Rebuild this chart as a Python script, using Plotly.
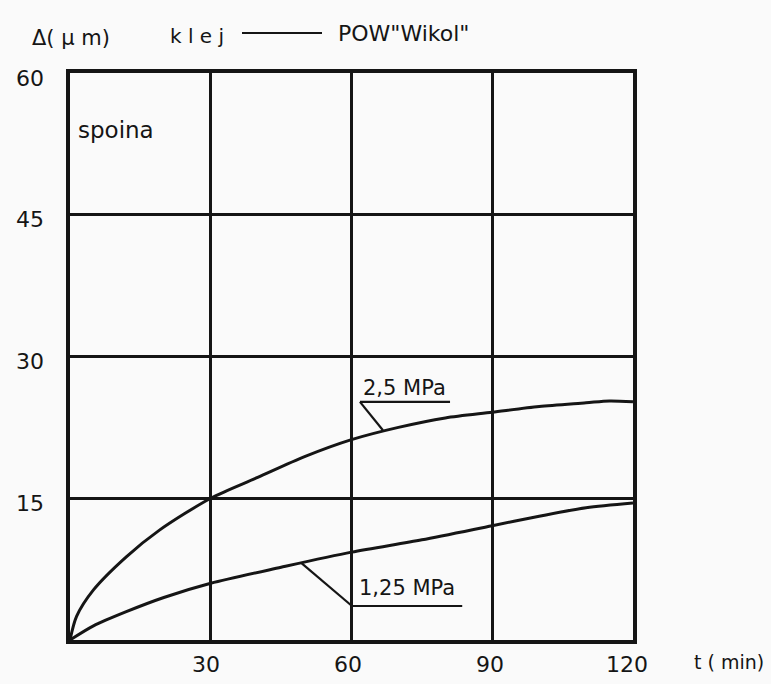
import plotly.graph_objects as go

t_25 = [0, 1.4, 5, 12, 19, 30, 40, 50, 60, 70, 80, 90, 100, 110, 115, 120]
d_25 = [0, 2.5, 5.3, 8.8, 11.6, 15.0, 17.2, 19.4, 21.2, 22.5, 23.5, 24.1, 24.7, 25.1, 25.3, 25.2]
t_125 = [0, 5, 12, 20, 30, 45, 60, 75, 90, 100, 110, 120]
d_125 = [0, 1.5, 3.0, 4.5, 6.0, 7.7, 9.3, 10.6, 12.1, 13.1, 14.0, 14.5]
x_ticks = [30, 60, 90, 120]
y_ticks = [15, 30, 45, 60]

FONT = "DejaVu Sans"
INK = "#151515"
fig = go.Figure()
for t, d in [(t_25, d_25), (t_125, d_125)]:
    fig.add_trace(go.Scatter(x=t, y=d, mode="lines",
                             line=dict(color=INK, width=3, shape="spline", smoothing=0.8),
                             showlegend=False, hoverinfo="skip"))

fig.update_layout(
    width=771, height=684,
    margin=dict(l=70, r=138, t=73, b=44),
    paper_bgcolor="#fafafa", plot_bgcolor="#fafafa",
    font=dict(family=FONT, size=22, color=INK),
)
axis_style = dict(showticklabels=False, showgrid=True, gridcolor=INK, gridwidth=3,
                  showline=True, linecolor=INK, linewidth=4, mirror=True, zeroline=False, ticks="")
fig.update_xaxes(range=[0, 120], tickvals=x_ticks, **axis_style)
fig.update_yaxes(range=[0, 60], tickvals=y_ticks, **axis_style)

PW, PH = 563, 567


def px(xp):
    return (xp - 70) / PW


def py(yp):
    return (640 - yp) / PH


ann = []
for v in y_ticks:
    ann.append(dict(x=px(46), xref="paper", y=v, yref="y", text=str(v), showarrow=False,
                    xanchor="right", yanchor="middle", yshift=-5, font=dict(size=22)))
xshift = {30: -5, 60: -4, 90: -2, 120: -6}
for v in x_ticks:
    ann.append(dict(x=v, xref="x", y=0, yref="y", text=str(v), showarrow=False, xanchor="center",
                    yanchor="middle", yshift=-24, xshift=xshift[v], font=dict(size=22)))
ann.append(dict(x=px(766), xref="paper", y=0, yref="y", text="t ( min)", showarrow=False,
                xanchor="right", yanchor="middle", yshift=-22, font=dict(size=19)))
ann.append(dict(x=px(30), xref="paper", y=py(38), yref="paper", text="Δ( μ m)", showarrow=False,
                xanchor="left", yanchor="middle", font=dict(size=21)))
ann.append(dict(x=px(168), xref="paper", y=py(36), yref="paper", text="k l e j", showarrow=False,
                xanchor="left", yanchor="middle", font=dict(size=20)))
ann.append(dict(x=px(336), xref="paper", y=py(34), yref="paper", text="POW\"Wikol\"", showarrow=False,
                xanchor="left", yanchor="middle", font=dict(size=22)))
ann.append(dict(x=px(76), xref="paper", y=py(130), yref="paper", text="spoina", showarrow=False,
                xanchor="left", yanchor="middle", font=dict(size=23)))
ann.append(dict(x=62.0, xref="x", y=26.7, yref="y", text="2,5 MPa", showarrow=False,
                xanchor="left", yanchor="middle", font=dict(size=21)))
ann.append(dict(x=61.2, xref="x", y=5.5, yref="y", text="1,25 MPa", showarrow=False,
                xanchor="left", yanchor="middle", font=dict(size=21)))
fig.update_layout(annotations=ann)

thin = dict(color=INK, width=2.2)
shapes = [
    dict(type="line", xref="paper", yref="paper", x0=px(242), x1=px(322), y0=py(33), y1=py(33), line=thin),
    dict(type="line", xref="x", yref="y", x0=61.8, x1=81.0, y0=25.2, y1=25.2, line=thin),
    dict(type="line", xref="x", yref="y", x0=61.8, x1=66.7, y0=25.2, y1=22.2, line=thin),
    dict(type="line", xref="x", yref="y", x0=60.1, x1=83.6, y0=3.6, y1=3.6, line=thin),
    dict(type="line", xref="x", yref="y", x0=60.1, x1=49.4, y0=3.6, y1=8.1, line=thin),
]
fig.update_layout(shapes=shapes)
fig.write_html("out.html")
